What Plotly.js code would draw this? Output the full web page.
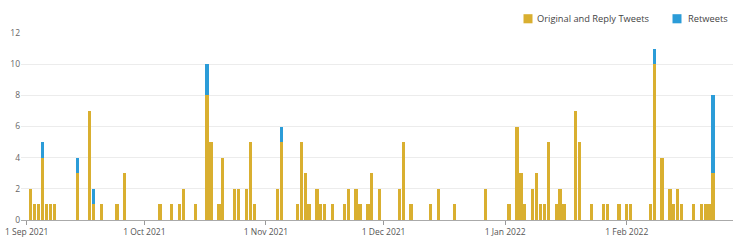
<!DOCTYPE html>
<html>
<head>
<meta charset="utf-8">
<script src="https://cdn.plot.ly/plotly-3.0.1.min.js"></script>
<style>
  html, body { margin: 0; padding: 0; background: #fff; }
  #chart { width: 750px; height: 247px; }
</style>
</head>
<body>
<div id="chart"></div>
<script>
// ---- data ----
const origDates = [
  "2021-09-02","2021-09-03","2021-09-04","2021-09-05","2021-09-06","2021-09-07","2021-09-08",
  "2021-09-14","2021-09-17","2021-09-18","2021-09-20","2021-09-24","2021-09-26",
  "2021-10-05","2021-10-08","2021-10-10","2021-10-11","2021-10-14","2021-10-17","2021-10-18",
  "2021-10-20","2021-10-21","2021-10-24","2021-10-25","2021-10-27","2021-10-28","2021-10-29",
  "2021-11-04","2021-11-05","2021-11-09","2021-11-10","2021-11-11","2021-11-12","2021-11-14",
  "2021-11-15","2021-11-16","2021-11-18","2021-11-21","2021-11-22","2021-11-24","2021-11-25",
  "2021-11-27","2021-11-28","2021-11-30",
  "2021-12-05","2021-12-06","2021-12-08","2021-12-13","2021-12-15","2021-12-19","2021-12-27",
  "2022-01-02","2022-01-04","2022-01-05","2022-01-06","2022-01-08","2022-01-09","2022-01-10",
  "2022-01-11","2022-01-12","2022-01-14","2022-01-15","2022-01-16","2022-01-19","2022-01-20",
  "2022-01-23","2022-01-26","2022-01-27","2022-01-30",
  "2022-02-01","2022-02-02","2022-02-07","2022-02-08","2022-02-10","2022-02-12","2022-02-13",
  "2022-02-14","2022-02-15","2022-02-18","2022-02-20","2022-02-21","2022-02-22","2022-02-23"
];
const origCounts = [
  2,1,1,4,1,1,1,
  3,7,1,1,1,3,
  1,1,1,2,1,8,5,
  1,4,2,2,2,5,1,
  2,5,1,5,3,1,2,
  1,1,1,1,2,2,1,
  1,3,2,
  2,5,1,1,2,1,2,
  1,6,3,1,2,3,1,
  1,5,1,2,1,7,5,
  1,1,1,1,
  1,1,1,10,4,2,1,
  2,1,1,1,1,1,3
];
const rtDates = ["2021-09-05","2021-09-14","2021-09-18","2021-10-17","2021-11-05","2022-02-08","2022-02-23"];
const rtCounts = [1,1,1,2,1,1,5];

const seriesNames = ["Original and Reply Tweets", "Retweets"];
const seriesColors = ["#D9AF30", "#2B9CD8"];
const yTicks = [0, 2, 4, 6, 8, 10, 12];

const DAY = 86400000;
const barW = 0.84 * DAY;

const traces = [
  {
    type: "bar", name: seriesNames[0], x: origDates, y: origCounts,
    width: origDates.map(() => barW),
    marker: { color: seriesColors[0], line: { width: 0 } }
  },
  {
    type: "bar", name: seriesNames[1], x: rtDates, y: rtCounts,
    width: rtDates.map(() => barW),
    marker: { color: seriesColors[1], line: { width: 0 } }
  }
];

// custom legend (paper coordinates)
const L = 21, R = 17, T = 33, B = 27;
const PW = 750 - L - R, PH = 247 - T - B;
const px = X => (X - L) / PW;
const py = Y => (247 - B - Y) / PH;

const legendItems = [
  { sw: [523.5, 532.5], tx: 535, name: seriesNames[0], color: seriesColors[0] },
  { sw: [672.5, 681.5], tx: 686, name: seriesNames[1], color: seriesColors[1] }
];

const shapes = legendItems.map(it => ({
  type: "rect", xref: "paper", yref: "paper",
  x0: px(it.sw[0]), x1: px(it.sw[1]), y0: py(23.3), y1: py(14.2),
  fillcolor: it.color, line: { width: 0 }
}));
const annotations = legendItems.map(it => ({
  xref: "paper", yref: "paper", x: px(it.tx), y: py(18.8),
  xanchor: "left", yanchor: "middle", showarrow: false,
  text: it.name, font: { family: "Open Sans", size: 9.3, color: "#444" }
}));

const layout = {
  width: 750, height: 247,
  margin: { l: L, r: R, t: T, b: B, pad: 0 },
  paper_bgcolor: "#fff", plot_bgcolor: "#fff",
  barmode: "stack",
  showlegend: false,
  font: { family: "Open Sans", size: 8.5, color: "#666" },
  xaxis: {
    type: "date",
    range: ["2021-08-30 13:10", "2022-02-28 02:10"],
    tick0: "2021-09-01", dtick: "M1", tickformat: "%-d %b %Y",
    ticks: "outside", ticklen: 4, tickcolor: "#999", tickwidth: 1,
    showline: true, linecolor: "#aaa", linewidth: 1,
    showgrid: false, zeroline: false,
    tickfont: { family: "Open Sans", size: 8.5, color: "#555" }
  },
  yaxis: {
    range: [0, 12], tickvals: yTicks, ticktext: yTicks.map(String),
    showgrid: true, gridcolor: "#ececec", gridwidth: 1,
    zeroline: false, showline: false, ticks: "",
    tickfont: { family: "Open Sans", size: 8.5, color: "#666" }
  },
  shapes: shapes,
  annotations: annotations
};

Plotly.newPlot("chart", traces, layout, { staticPlot: true, displayModeBar: false });
</script>
</body>
</html>
